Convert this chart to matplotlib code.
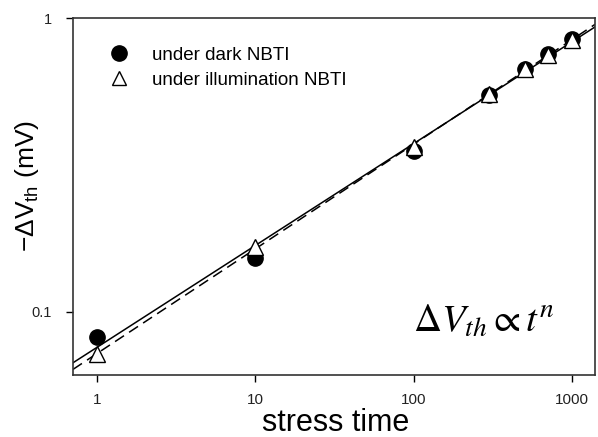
import numpy as np
import matplotlib
matplotlib.use("Agg")
import matplotlib.pyplot as plt
from matplotlib.ticker import FixedLocator, NullLocator, FixedFormatter

plt.rcParams['font.family'] = ['Liberation Sans', 'DejaVu Sans']
plt.rcParams['mathtext.fontset'] = 'stix'
plt.rcParams['mathtext.rm'] = 'Liberation Sans'
plt.rcParams['mathtext.it'] = 'Liberation Sans:italic'
plt.rcParams['mathtext.bf'] = 'Liberation Sans:bold'
plt.rcParams['mathtext.sf'] = 'Liberation Sans'

t = [1, 10, 100, 300, 500, 700, 1000]
dark = [0.082, 0.153, 0.353, 0.547, 0.672, 0.755, 0.85]
illum = [0.072, 0.166, 0.364, 0.55, 0.67, 0.75, 0.84]
xticks = [1, 10, 100, 1000]
xticklabels = ['1', '10', '100', '1000']
yticks = [0.1, 1]
yticklabels = ['0.1', '1']

fig = plt.figure(figsize=(5.98, 4.37), dpi=100)
ax = fig.add_axes([73/598, 1-375/437, (595-73)/598, (375-18)/437])
ax.set_xscale('log')
ax.set_yscale('log')
ax.set_xlim(0.706, 1390)
ax.set_ylim(0.061, 1.0)

lt = np.log10(t)
p_dark = np.polyfit(lt, np.log10(dark), 1)
p_ill = np.polyfit(lt, np.log10(illum), 1)
xx = np.logspace(np.log10(0.706), np.log10(1390), 50)
ax.plot(xx, 10**np.polyval(p_dark, np.log10(xx)), color='black', lw=1.1, zorder=2)
ax.plot(xx, 10**np.polyval(p_ill, np.log10(xx)), color='black', lw=1.1, ls=(0, (7, 4)), zorder=2)

ax.plot(t, dark, 'o', color='black', ms=11, zorder=3)
ax.plot(t, illum, '^', mfc='white', mec='black', mew=1.0, ms=12, zorder=4)

# legend handles (slightly smaller markers, as in the reference)
h1, = ax.plot([], [], 'o', color='black', ms=11, label='under dark NBTI')
h2, = ax.plot([], [], '^', mfc='white', mec='black', mew=1.0, ms=9.5, label='under illumination NBTI')

ax.xaxis.set_major_locator(FixedLocator(xticks))
ax.xaxis.set_major_formatter(FixedFormatter(xticklabels))
ax.xaxis.set_minor_locator(NullLocator())
ax.yaxis.set_major_locator(FixedLocator(yticks))
ax.yaxis.set_major_formatter(FixedFormatter(yticklabels))
ax.yaxis.set_minor_locator(NullLocator())
ax.tick_params(axis='both', which='major', direction='out', length=5, width=1, colors='black')
ax.tick_params(axis='x', labelsize=11, pad=8, labelcolor='#222222')
ax.tick_params(axis='y', labelsize=10.5, pad=10, labelcolor='#222222')
for s in ax.spines.values():
    s.set_linewidth(1.2)
    s.set_color('#333333')

ax.set_xlabel('stress time', fontsize=22)
ax.xaxis.set_label_coords(0.504, -0.093)
ax.set_ylabel(r'$\mathrm{-\Delta V_{th}}$ (mV)', fontsize=19,
              math_fontfamily='custom')
ax.yaxis.set_label_coords(-0.088, 0.53)
ax.yaxis.label.set_va('center')

ax.legend(handles=[h1, h2], loc='upper left', bbox_to_anchor=(0.055, 0.94), frameon=False,
          fontsize=13.5, handlelength=1.0, handletextpad=1.3, labelspacing=0.4,
          borderaxespad=0.0)

ax.text(0.923, 0.120, r'$\Delta V_{th} \propto t^{n}$', transform=ax.transAxes,
        fontsize=28, ha='right', va='baseline')

fig.savefig('out.png', dpi=100)
